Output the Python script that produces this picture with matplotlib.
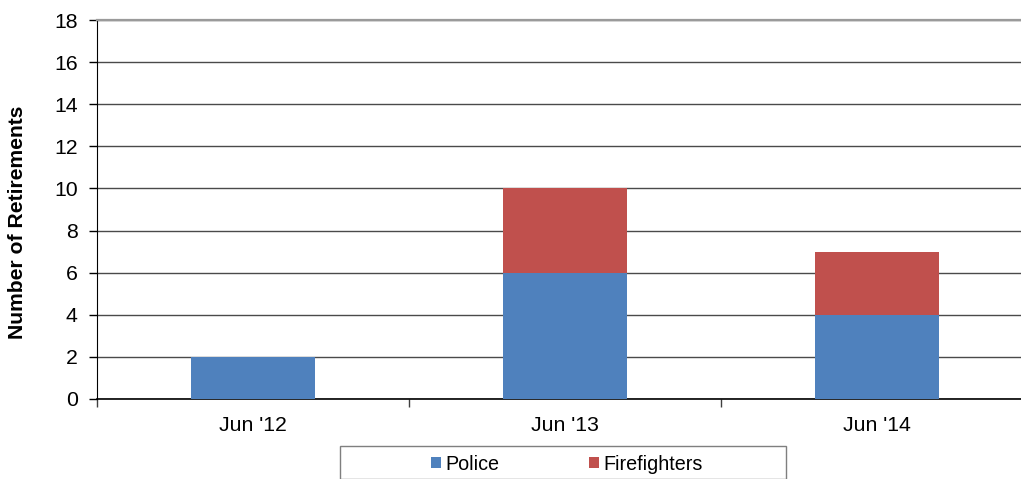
import matplotlib
matplotlib.use("Agg")
import matplotlib.pyplot as plt
from matplotlib.patches import Rectangle
import numpy as np

plt.rcParams['font.family'] = ['Liberation Sans', 'DejaVu Sans']

categories = ["Jun '12", "Jun '13", "Jun '14"]
police = [2, 6, 4]
firefighters = [0, 4, 3]
yticks = [0, 2, 4, 6, 8, 10, 12, 14, 16, 18]

W, H = 1021, 479
fig = plt.figure(figsize=(W / 100, H / 100), dpi=100)

# plot area in pixel terms (runs slightly past the right edge)
left, right, top, bottom = 97, 1033, 20, 399
ax = fig.add_axes([left / W, 1 - bottom / H, (right - left) / W, (bottom - top) / H])

x = np.arange(len(categories))
bw = 0.4
c_pol = '#4F81BD'
c_fire = '#C0504D'
ax.bar(x, police, bw, color=c_pol, label='Police', zorder=3)
ax.bar(x, firefighters, bw, bottom=police, color=c_fire, label='Firefighters', zorder=3)

ax.set_xlim(-0.5, len(categories) - 0.5)
ax.set_ylim(0, 18)
ax.set_yticks(yticks)
ax.set_yticklabels([str(v) for v in yticks], fontsize=15.3)
ax.yaxis.grid(True, color='#4a4a4a', linewidth=1.0, zorder=1)
ax.set_axisbelow(True)

ax.set_xticks(x)
ax.set_xticklabels(categories, fontsize=15.3)
ax.set_xticks(np.arange(-0.5, len(categories), 1.0), minor=True)
ax.tick_params(axis='x', which='major', length=0, pad=12.5)
ax.tick_params(axis='x', which='minor', length=6, width=1, color='#404040')
ax.tick_params(axis='y', length=6, width=1, pad=8)

ax.spines['right'].set_visible(False)
ax.spines['top'].set_color('#9a9a9a')
ax.spines['top'].set_linewidth(1.6)
ax.spines['left'].set_color('black')
ax.spines['bottom'].set_color('black')
ax.spines['bottom'].set_linewidth(1.2)

fig.text(18 / W, 1 - 222 / H, 'Number of Retirements', rotation=90,
         fontsize=15.2, fontweight='bold', ha='center', va='center')

# legend box
fig.patches.append(Rectangle((340 / W, 0), (786 - 340) / W, 1 - 446 / H,
                             transform=fig.transFigure, fill=False,
                             edgecolor='#7f7f7f', linewidth=1.0))
handles, labels = ax.get_legend_handles_labels()
fig.legend(handles, labels, loc='center', bbox_to_anchor=(567 / W, 1 - 464 / H),
           ncol=2, frameon=False, fontsize=14.2, handlelength=0.5, handleheight=0.5,
           handletextpad=0.22, columnspacing=4.55)

fig.savefig('out.png', dpi=100)
